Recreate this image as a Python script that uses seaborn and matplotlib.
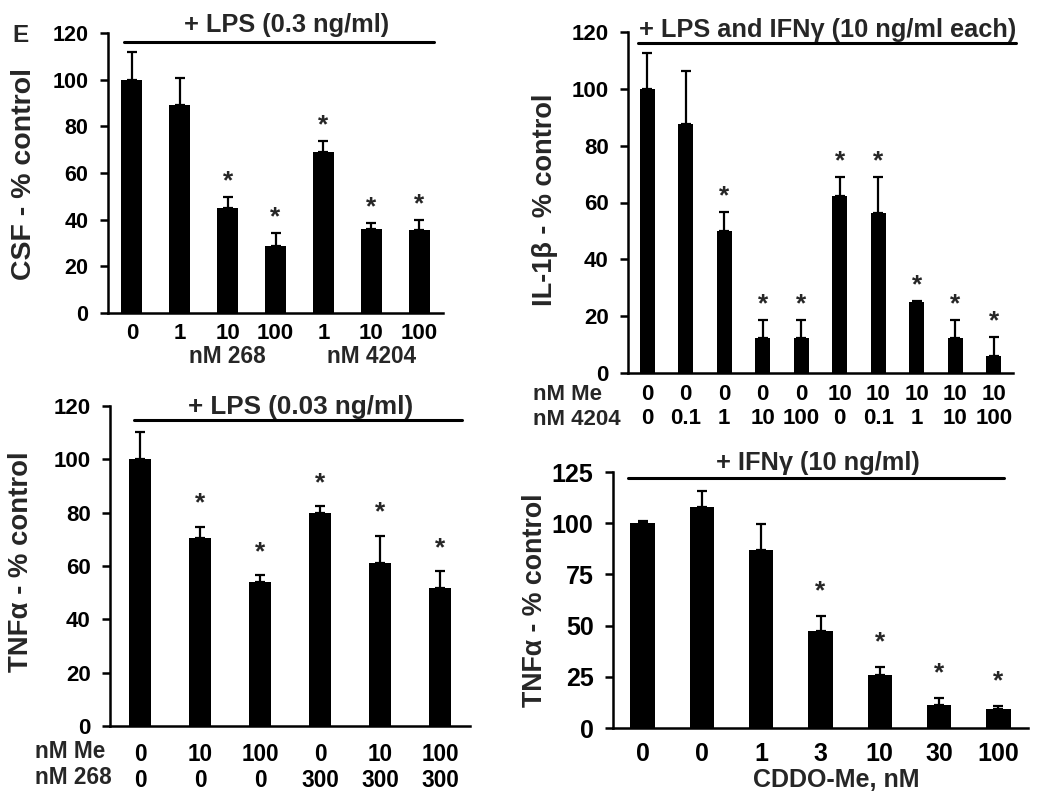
import matplotlib
matplotlib.use("Agg")
import matplotlib.pyplot as plt
import seaborn as sns
import pandas as pd
import numpy as np

# ---------------- data ----------------
# Panel 1: CSF, + LPS (0.3 ng/ml)
csf_labels = ["0", "1", "10", "100", "1", "10", "100"]
csf_mean = [100, 89.3, 45, 28.6, 68.9, 36, 35.4]
csf_err = [12, 11.4, 4.7, 5.7, 4.8, 2.4, 4.3]
csf_sig = [0, 0, 1, 1, 1, 1, 1]
csf_groups = ["nM 268", "nM 4204"]

# Panel 2: IL-1beta, + LPS and IFNg
il1b_me = ["0", "0", "0", "0", "0", "10", "10", "10", "10", "10"]
il1b_4204 = ["0", "0.1", "1", "10", "100", "0", "0.1", "1", "10", "100"]
il1b_mean = [100, 87.5, 50, 12.3, 12.3, 62.4, 56.2, 24.9, 12.3, 6.1]
il1b_err = [12.6, 18.8, 6.6, 6.4, 6.4, 6.5, 12.7, 0.3, 6.4, 6.4]
il1b_sig = [0, 0, 1, 1, 1, 1, 1, 1, 1, 1]

# Panel 3: TNFa, + LPS (0.03 ng/ml)
tnf1_me = ["0", "10", "100", "0", "10", "100"]
tnf1_268 = ["0", "0", "0", "300", "300", "300"]
tnf1_mean = [100, 70.5, 54, 79.9, 61.2, 51.6]
tnf1_err = [10.3, 4.2, 2.6, 2.5, 10.2, 6.4]
tnf1_sig = [0, 1, 1, 1, 1, 1]

# Panel 4: TNFa, + IFNg, CDDO-Me dose
tnf2_dose = ["0", "0", "1", "3", "10", "30", "100"]
tnf2_mean = [100, 107.7, 86.8, 47.5, 25.9, 11.4, 9.4]
tnf2_err = [0.9, 7.9, 13, 7, 3.9, 3.2, 1.2]
tnf2_sig = [0, 0, 0, 1, 1, 1, 1]

# ---------------- style ----------------
sns.set_theme(style="ticks")
plt.rcParams['font.family'] = ['Liberation Sans', 'DejaVu Sans']
plt.rcParams['font.weight'] = 'bold'
plt.rcParams['axes.labelweight'] = 'bold'

W, H = 1050, 801
fig = plt.figure(figsize=(W / 100, H / 100), dpi=100)

STAR_FS = 19


def px_axes(x0, x1, y0, y1):
    """axes rectangle from pixel edges (x left/right, y bottom/top in image px)."""
    return fig.add_axes([x0 / W, 1 - y0 / H, (x1 - x0) / W, (y0 - y1) / H])


def panel(ax, mean, err, sig, ticklabels, ymax, yticks, bar_w, star_off, tick_pad,
          ytick_fs, xtick_fs):
    n = len(mean)
    keys = [f"c{i}" for i in range(n)]
    df = pd.DataFrame({"cond": keys, "value": mean})
    sns.barplot(data=df, x="cond", y="value", order=keys, color="black",
                saturation=1, width=bar_w, errorbar=None, linewidth=0, ax=ax)
    pos = np.arange(n)
    ax.errorbar(pos, mean, yerr=[np.zeros(n), err], fmt="none", ecolor="black",
                elinewidth=1.6, capsize=3.5, capthick=1.6)
    for i in range(n):
        if sig[i]:
            ax.annotate("*", xy=(i, mean[i] + err[i]), xytext=(0, star_off),
                        textcoords="offset pixels", ha="center", va="center",
                        fontsize=STAR_FS, fontweight="bold")
    ax.set_xlim(-0.5, n - 0.5)
    ax.set_ylim(0, ymax)
    ax.set_yticks(yticks)
    ax.set_yticklabels([str(t) for t in yticks], fontsize=ytick_fs, fontweight="bold")
    ax.set_xticks(pos)
    ax.set_xticklabels(ticklabels, fontsize=xtick_fs, fontweight="bold",
                       linespacing=1.2)
    ax.set_xlabel("")
    ax.set_ylabel("")
    sns.despine(ax=ax)
    for s in ("left", "bottom"):
        ax.spines[s].set_linewidth(1.8)
        ax.spines[s].set_color("black")
    ax.tick_params(axis="y", length=6, width=1.8, pad=8, colors="black")
    ax.tick_params(axis="x", length=0, pad=tick_pad, colors="black")
    ax.set_facecolor("white")


def header(ax, text, x0, x1, ly, tx, ty, fs):
    tr = ax.get_xaxis_transform()
    ax.plot([x0, x1], [ly, ly], color="black", lw=2.2, transform=tr, clip_on=False)
    ax.text(tx, ty, text, transform=tr, ha="center", va="center",
            fontsize=fs, fontweight="bold", clip_on=False)


def ylab(ax, text, x, y, fs):
    ax.text(x, y, text, transform=ax.transAxes, rotation=90, ha="center",
            va="center", fontsize=fs, fontweight="bold")


# ---- Panel 1 (top-left) ----
ax1 = px_axes(108, 443, 313, 33)
panel(ax1, csf_mean, csf_err, csf_sig, csf_labels, 120, [0, 20, 40, 60, 80, 100, 120],
      0.44, 16, 7, 15.5, 16)
header(ax1, "+ LPS (0.3 ng/ml)", -0.17, 6.31, 0.968, 3.23, 1.029, 18.3)
ylab(ax1, "CSF - % control", -0.252, 0.498, 20.5)
for gx, g in zip([2, 5], csf_groups):
    ax1.text(gx, -0.157, g, transform=ax1.get_xaxis_transform(), ha="center",
             va="center", fontsize=16.3, fontweight="bold")
fig.text(21 / W, 1 - 36 / H, "E", ha="center", va="center", fontsize=17.5,
         fontweight="bold")

# ---- Panel 2 (top-right) ----
ax2 = px_axes(628, 1013, 373, 32)
panel(ax2, il1b_mean, il1b_err, il1b_sig,
      [f"{a}\n{b}" for a, b in zip(il1b_me, il1b_4204)], 120,
      [0, 20, 40, 60, 80, 100, 120], 0.38, 16, 8, 16, 16)
header(ax2, "+ LPS and IFN\u03b3 (10 ng/ml each)", -0.23, 9.58, 0.968, 4.69, 1.006,
       18.3)
ylab(ax2, "IL-1\u03b2 - % control", -0.216, 0.507, 19.5)
fig.text(533 / W, 1 - 395 / H, "nM Me", ha="left", va="center", fontsize=16,
         fontweight="bold")
fig.text(533 / W, 1 - 420 / H, "nM 4204", ha="left", va="center", fontsize=16,
         fontweight="bold")

# ---- Panel 3 (bottom-left) ----
ax3 = px_axes(110, 470, 726, 406)
panel(ax3, tnf1_mean, tnf1_err, tnf1_sig,
      [f"{a}\n{b}" for a, b in zip(tnf1_me, tnf1_268)], 120,
      [0, 20, 40, 60, 80, 100, 120], 0.38, 23, 12, 16, 16.3)
header(ax3, "+ LPS (0.03 ng/ml)", -0.1, 5.36, 0.956, 2.67, 0.997, 18.7)
ylab(ax3, "TNF\u03b1 - % control", -0.247, 0.512, 19.8)
fig.text(35 / W, 1 - 752 / H, "nM Me", ha="left", va="center", fontsize=16.3,
         fontweight="bold")
fig.text(35 / W, 1 - 778 / H, "nM 268", ha="left", va="center", fontsize=16.3,
         fontweight="bold")

# ---- Panel 4 (bottom-right) ----
ax4 = px_axes(613, 1028, 728, 472)
panel(ax4, tnf2_mean, tnf2_err, tnf2_sig, tnf2_dose, 125,
      [0, 25, 50, 75, 100, 125], 0.41, 25, 10, 18, 18)
header(ax4, "+ IFN\u03b3 (10 ng/ml)", -0.25, 6.09, 0.977, 2.95, 1.035, 18.3)
ylab(ax4, "TNF\u03b1 - % control", -0.188, 0.5, 19.3)
ax4.text(3.27, -0.203, "CDDO-Me, nM", transform=ax4.get_xaxis_transform(),
         ha="center", va="center", fontsize=18, fontweight="bold")

fig.savefig("out.png", dpi=100, facecolor="white")
